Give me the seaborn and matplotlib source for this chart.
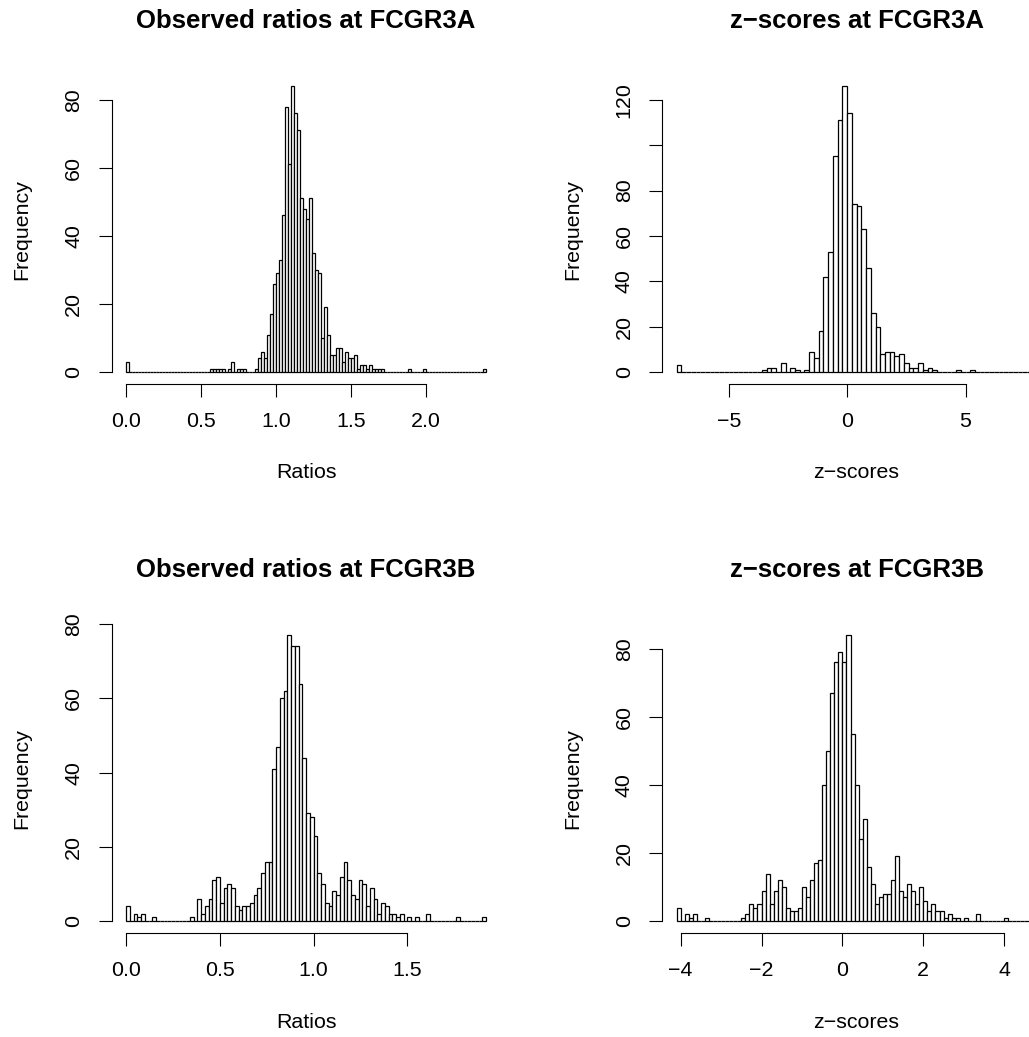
import numpy as np
import pandas as pd
import matplotlib
matplotlib.use("Agg")
import matplotlib.pyplot as plt
import seaborn as sns

# bin counts (R style hist, right-open bins)
# observed ratios at FCGR3A: bins of 0.02 from 0.00 to 2.40
ratio_3a_start = 0.0
ratio_3a_width = 0.02
ratio_3a = [3] + [0] * 27 + [1, 1, 1, 1, 1, 0, 1, 3, 0, 1, 1, 1, 0, 0, 0,
            1, 4, 6, 4, 11, 17, 26, 29, 33, 46, 78, 61, 84, 76, 71, 51, 48, 45, 51,
            35, 30, 29, 10, 19, 11, 5, 5, 7, 7, 3, 6, 4, 4, 5, 1, 2, 2, 1, 2, 1,
            1, 1, 1] + [0] * 8 + [1, 0, 0, 0, 0, 1] + [0] * 19 + [1]

# z-scores at FCGR3A: bins of 0.2 from -7.2 to 8.0
z_3a_start = -7.2
z_3a_width = 0.2
z_3a = [3] + [0] * 17 + [1, 2, 2, 0, 4, 0, 2, 1, 0, 1, 9, 6, 18, 42, 53, 95,
        111, 126, 114, 74, 73, 63, 46, 26, 20, 8, 9, 9, 7, 8, 4, 2, 2, 4, 1, 2,
        1, 0, 0, 0, 0, 1, 0, 0, 1] + [0] * 12 + [1]

# observed ratios at FCGR3B: bins of 0.02 from 0.00 to 1.92
ratio_3b_start = 0.0
ratio_3b_width = 0.02
ratio_3b = [4, 0, 2, 1, 2, 0, 0, 1] + [0] * 9 + [1, 0, 6, 2, 4, 6, 11, 12, 5, 9,
            10, 9, 4, 3, 4, 4, 5, 7, 9, 13, 16, 16, 41, 47, 60, 62, 77, 74, 74, 64,
            44, 29, 28, 23, 13, 10, 5, 4, 8, 7, 12, 16, 11, 7, 6, 11, 10, 4, 9, 6,
            2, 5, 4, 2, 2, 1, 2, 0, 1, 0, 1, 0, 0, 2] + [0] * 7 + [1] + [0] * 6 + [1]

# z-scores at FCGR3B: bins of 0.1 from -4.1 to 4.8
z_3b_start = -4.1
z_3b_width = 0.1
z_3b = [4, 0, 2, 1, 2, 0, 0, 1] + [0] * 8 + [1, 2, 5, 4, 5, 9, 14, 5, 9, 12, 10,
        4, 3, 3, 4, 10, 7, 12, 17, 18, 40, 50, 67, 76, 79, 76, 84, 55, 40, 24, 30,
        16, 11, 5, 7, 8, 8, 12, 19, 9, 7, 11, 9, 5, 10, 6, 3, 5, 3, 3, 1, 2, 1, 1,
        0, 1, 0, 0, 2] + [0] * 6 + [1] + [0] * 6 + [1]

titles = ["Observed ratios at FCGR3A", "z\u2212scores at FCGR3A",
          "Observed ratios at FCGR3B", "z\u2212scores at FCGR3B"]
xlabels = ["Ratios", "z\u2212scores", "Ratios", "z\u2212scores"]

xticks_list = [[0, 0.5, 1.0, 1.5, 2.0], [-5, 0, 5], [0, 0.5, 1.0, 1.5], [-4, -2, 0, 2, 4]]
xticklabels_list = [["0.0", "0.5", "1.0", "1.5", "2.0"],
                    ["\u22125", "0", "5"],
                    ["0.0", "0.5", "1.0", "1.5"],
                    ["\u22124", "\u22122", "0", "2", "4"]]
yticks_list = [[0, 20, 40, 60, 80], [0, 20, 40, 60, 80, 100, 120],
               [0, 20, 40, 60, 80], [0, 20, 40, 60, 80]]
yticklabels_list = [["0", "20", "40", "60", "80"],
                    ["0", "20", "40", "60", "80", "", "120"],
                    ["0", "20", "40", "60", "80"],
                    ["0", "20", "40", "60", "80"]]

sns.set_theme(style="ticks")
plt.rcParams['font.family'] = ['Liberation Sans', 'DejaVu Sans']
plt.rcParams['text.color'] = 'black'
plt.rcParams['axes.labelcolor'] = 'black'
plt.rcParams['xtick.color'] = 'black'
plt.rcParams['ytick.color'] = 'black'

W, H = 1029, 1037
fig = plt.figure(figsize=(W / 100, H / 100), dpi=100)

# plot regions in pixels (left, top); all same size
aw, ah = 388.8, 308.8
rects = [(111.6, 74.7), (662.2, 74.7), (111.6, 623.8), (662.2, 623.8)]

data = [(ratio_3a, ratio_3a_start, ratio_3a_width),
        (z_3a, z_3a_start, z_3a_width),
        (ratio_3b, ratio_3b_start, ratio_3b_width),
        (z_3b, z_3b_start, z_3b_width)]

PT = 0.72  # points per pixel at dpi 100

for i in range(4):
    counts, start, width = data[i]
    left, top = rects[i]
    ax = fig.add_axes([left / W, 1 - (top + ah) / H, aw / W, ah / H])

    edges = np.round(start + width * np.arange(len(counts) + 1), 4)
    df = pd.DataFrame({"x": edges[:-1] + width / 2, "n": counts})
    sns.histplot(data=df, x="x", weights="n", bins=edges.tolist(), ax=ax,
                 color="white", edgecolor="black", linewidth=0.9, alpha=1)

    # R default axis ranges: 4% padding
    xr = edges[-1] - edges[0]
    ax.set_xlim(edges[0] - 0.04 * xr, edges[-1] + 0.04 * xr)
    ymax = max(counts)
    ax.set_ylim(-0.04 * ymax, 1.04 * ymax)

    for s in ["top", "right"]:
        ax.spines[s].set_visible(False)
    ax.spines["left"].set_bounds(yticks_list[i][0], yticks_list[i][-1])
    ax.spines["bottom"].set_bounds(xticks_list[i][0], xticks_list[i][-1])
    for s in ["left", "bottom"]:
        ax.spines[s].set_linewidth(0.8)
        ax.spines[s].set_color("black")

    ax.set_xticks(xticks_list[i])
    ax.set_xticklabels(xticklabels_list[i])
    ax.set_yticks(yticks_list[i])
    ax.set_yticklabels(yticklabels_list[i])
    ax.tick_params(axis="both", direction="out", length=13.5 * PT, width=0.8,
                   color="black", labelsize=15.4, labelcolor="black",
                   pad=24.5 * PT)
    for lab in ax.get_xticklabels():
        lab.set_va("center")
    for lab in ax.get_yticklabels():
        lab.set_rotation(90)
        lab.set_va("center")
        lab.set_ha("center")

    ax.set_title(titles[i], fontsize=18.5, fontweight="bold", color="black",
                 y=1 + 54.2 / ah, va="center", pad=0)
    ax.set_xlabel(xlabels[i], fontsize=15.4)
    ax.xaxis.set_label_coords(0.5, -89.5 / ah)
    ax.xaxis.label.set_va("center")
    ax.set_ylabel("Frequency", fontsize=15.4)
    ax.yaxis.set_label_coords(-89.6 / aw, 0.5)
    ax.yaxis.label.set_va("center")
    ax.grid(False)

fig.savefig("out.png", dpi=100, facecolor="white")
